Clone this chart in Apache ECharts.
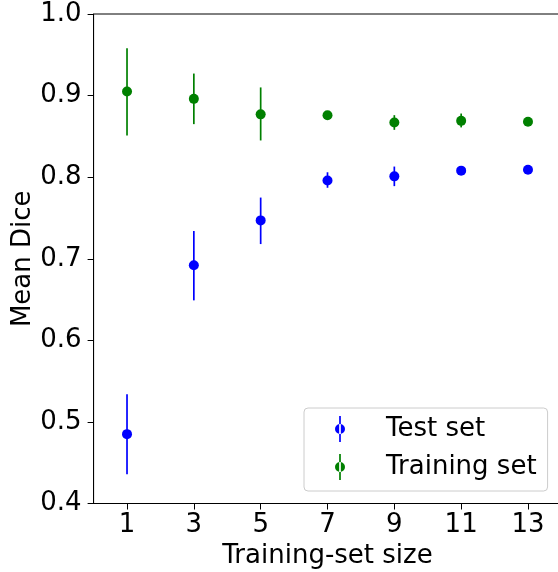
<!DOCTYPE html>
<html>
<head>
<meta charset="utf-8">
<script src="https://cdn.jsdelivr.net/npm/echarts@6/dist/echarts.min.js"></script>
<style>
html,body{margin:0;padding:0;background:#fff;}
#chart{width:558px;height:572px;}
</style>
</head>
<body>
<div id="chart"></div>
<script>
// ---- data ----
var sizes = [1, 3, 5, 7, 9, 11, 13];
var xTicks = [1, 3, 5, 7, 9, 11, 13];
var testMean  = [0.485, 0.692, 0.747, 0.796, 0.801, 0.808, 0.809];
var testLow   = [0.436, 0.649, 0.718, 0.787, 0.789, 0.806, 0.807];
var testHigh  = [0.534, 0.734, 0.775, 0.806, 0.813, 0.810, 0.811];
var trainMean = [0.905, 0.896, 0.877, 0.876, 0.867, 0.869, 0.868];
var trainLow  = [0.851, 0.865, 0.845, 0.874, 0.858, 0.861, 0.866];
var trainHigh = [0.958, 0.927, 0.910, 0.878, 0.876, 0.878, 0.870];
var seriesNames = ['Test set', 'Training set'];
var seriesColors = ['#0000ff', '#008000'];

var FONT = 'DejaVu Sans';
var FS = 26;

function points(mean) {
  return sizes.map(function (x, i) { return [x, mean[i]]; });
}
function bars(low, high) {
  return sizes.map(function (x, i) { return [x, low[i], high[i]]; });
}
function errRender(color) {
  return function (params, api) {
    var p1 = api.coord([api.value(0), api.value(1)]);
    var p2 = api.coord([api.value(0), api.value(2)]);
    return {
      type: 'line',
      shape: { x1: p1[0], y1: p1[1], x2: p2[0], y2: p2[1] },
      style: { stroke: color, lineWidth: 1.7 }
    };
  };
}

var legendIcon = 'path://M4.15 0H5.85V26H4.15Z M0 13A5 5 0 1 0 10 13A5 5 0 1 0 0 13Z';

var chart = echarts.init(document.getElementById('chart'), null, { renderer: 'canvas' });
chart.setOption({
  animation: false,
  backgroundColor: '#ffffff',
  grid: {
    left: 93.6, top: 14, width: 467.8, height: 489.5,
    outerBoundsMode: 'none', containLabel: false,
    show: true, borderColor: '#000', borderWidth: 1, backgroundColor: 'transparent'
  },
  xAxis: {
    type: 'value', min: 0, max: 14,
    name: 'Training-set size', nameLocation: 'middle', nameGap: 40, nameMoveOverlap: false,
    nameTextStyle: { fontFamily: FONT, fontSize: FS, color: '#000' },
    axisLine: { show: true, lineStyle: { color: '#000', width: 1 } },
    axisTick: { show: true, length: 6, lineStyle: { color: '#000', width: 1 }, customValues: xTicks },
    axisLabel: { fontFamily: FONT, fontSize: FS, color: '#000', margin: 9, customValues: xTicks },
    splitLine: { show: false }
  },
  yAxis: {
    type: 'value', min: 0.4, max: 1.0, interval: 0.1,
    name: 'Mean Dice', nameLocation: 'middle', nameGap: 57, nameMoveOverlap: false,
    nameTextStyle: { fontFamily: FONT, fontSize: FS, color: '#000' },
    axisLine: { show: true, lineStyle: { color: '#000', width: 1 } },
    axisTick: { show: true, length: 6, lineStyle: { color: '#000', width: 1 } },
    axisLabel: { fontFamily: FONT, fontSize: FS, color: '#000', margin: 12,
      formatter: function (v) { return v.toFixed(1); } },
    splitLine: { show: false }
  },
  legend: {
    orient: 'vertical', left: 304, top: 408,
    data: seriesNames.map(function (n) { return { name: n, icon: legendIcon }; }),
    itemWidth: 10, itemHeight: 26, itemGap: 12,
    padding: [8, 11, 11, 31],
    backgroundColor: 'rgba(255,255,255,0.8)',
    borderColor: '#cccccc', borderWidth: 1, borderRadius: 4,
    textStyle: { fontFamily: FONT, fontSize: FS, color: '#000', lineHeight: 26, padding: [0, 0, 0, 36] },
    selectedMode: false
  },
  series: [
    { name: 'Test set err', type: 'custom', data: bars(testLow, testHigh),
      renderItem: errRender(seriesColors[0]), encode: { x: 0, y: [1, 2] }, z: 2, silent: true },
    { name: seriesNames[0], type: 'scatter', data: points(testMean), symbol: 'circle', symbolSize: 10,
      itemStyle: { color: seriesColors[0], opacity: 1 }, z: 3 },
    { name: 'Training set err', type: 'custom', data: bars(trainLow, trainHigh),
      renderItem: errRender(seriesColors[1]), encode: { x: 0, y: [1, 2] }, z: 4, silent: true },
    { name: seriesNames[1], type: 'scatter', data: points(trainMean), symbol: 'circle', symbolSize: 10,
      itemStyle: { color: seriesColors[1], opacity: 1 }, z: 5 }
  ]
});
</script>
</body>
</html>
